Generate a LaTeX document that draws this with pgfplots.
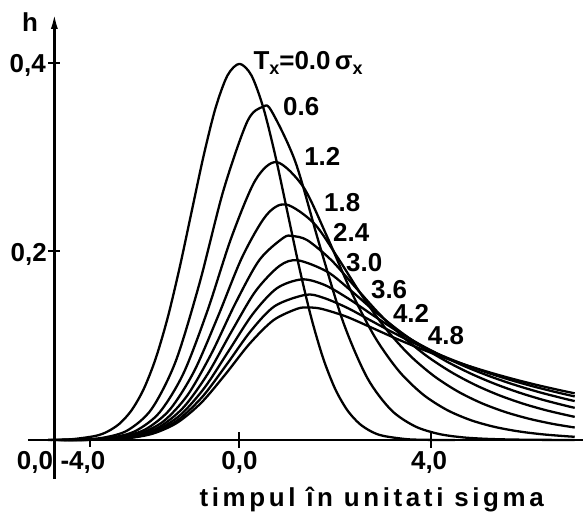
\documentclass[border=0pt]{standalone}
\usepackage{pgfplots}
\pgfplotsset{compat=1.18}
\usepackage{fontspec}
\setmainfont{Liberation Sans}
\newfontfamily\spaced[LetterSpace=14]{Liberation Sans}
\usetikzlibrary{arrows.meta}
\tikzset{lbl/.style={font=\bfseries\fontsize{26}{30}\selectfont, inner sep=0pt}}

\begin{document}
\begin{tikzpicture}
\begin{axis}[
  scale only axis, width=584pt, height=519pt,
  xmin=-5, xmax=7.1667, ymin=-0.08254, ymax=0.46667,
  hide axis, clip=false,
  cycle list={{black, solid, no markers}},
  every axis plot/.append style={line width=2.3pt, smooth, line join=round},
]
\path (rel axis cs:0,0) rectangle (rel axis cs:1,1);

% exponentially modified Gaussian, tau = 0 (pure Gaussian)
\addplot coordinates {(-4,0.00013) (-3.5,0.00087) (-3,0.00443) (-2.75,0.00909) (-2.5,0.01753)
 (-2.25,0.03174) (-2,0.05399) (-1.75,0.08628) (-1.5,0.12952) (-1.25,0.18265) (-1,0.24197)
 (-0.75,0.30114) (-0.5,0.35207) (-0.25,0.38667) (0,0.39894) (0.25,0.38667) (0.5,0.35207)
 (0.75,0.30114) (1,0.24197) (1.25,0.18265) (1.5,0.12952) (1.75,0.08628) (2,0.05399)
 (2.25,0.03174) (2.5,0.01753) (2.75,0.00909) (3,0.00443) (3.5,0.00087) (4,0.00013) (4.5,0.00002)};
% tau = 0.6
\addplot coordinates {(-3.833,0.00008) (-3.333,0.00050) (-2.833,0.00256) (-2.333,0.01034)
 (-1.833,0.03301) (-1.333,0.08326) (-0.833,0.16645) (-0.333,0.26503) (0.167,0.33823)
 (0.492,0.35346) (0.667,0.34909) (1.167,0.29504) (1.667,0.20779) (2.167,0.12489)
 (2.667,0.06604) (3.167,0.03183) (3.667,0.01449) (4.167,0.00640) (4.667,0.00280)
 (5.167,0.00122) (5.667,0.00053) (6.167,0.00023) (6.667,0.00010) (7,0.00006)};
% tau = 1.2
\addplot coordinates {(-3.667,0.00009) (-3.167,0.00052) (-2.667,0.00253) (-2.167,0.00968)
 (-1.667,0.02937) (-1.167,0.07093) (-0.667,0.13731) (-0.167,0.21498) (0.333,0.27561)
 (0.778,0.29473) (1.333,0.26843) (1.833,0.21532) (2.333,0.15745) (2.833,0.10870)
 (3.333,0.07287) (3.833,0.04827) (4.333,0.03186) (4.833,0.02101) (5.333,0.01385)
 (5.833,0.00913) (6.333,0.00602) (6.833,0.00397) (7,0.00345)};
% tau = 1.8
\addplot coordinates {(-3.944,0.00002) (-3.444,0.00014) (-2.944,0.00077) (-2.444,0.00340)
 (-1.944,0.01186) (-1.444,0.03290) (-0.944,0.07319) (-0.444,0.13166) (0.056,0.19393)
 (0.556,0.23806) (0.967,0.24989) (1.556,0.22983) (2.056,0.19309) (2.556,0.15317)
 (3.056,0.11798) (3.556,0.08980) (4.056,0.06810) (4.556,0.05159) (5.056,0.03908)
 (5.556,0.02960) (6.056,0.02242) (6.556,0.01698) (7,0.01327)};
% tau = 2.4
\addplot coordinates {(-3.583,0.00006) (-3.083,0.00038) (-2.583,0.00180) (-2.083,0.00672)
 (-1.583,0.02000) (-1.083,0.04768) (-0.583,0.09194) (-0.083,0.14517) (0.417,0.19101)
 (0.917,0.21447) (1.107,0.21633) (1.417,0.21189) (1.917,0.19082) (2.417,0.16225)
 (2.917,0.13396) (3.417,0.10930) (3.917,0.08885) (4.417,0.07215) (4.917,0.05858)
 (5.417,0.04757) (5.917,0.03862) (6.417,0.03136) (6.917,0.02546) (7,0.02459)};
% tau = 3.0
\addplot coordinates {(-3.667,0.00004) (-3.167,0.00024) (-2.667,0.00116) (-2.167,0.00451)
 (-1.667,0.01397) (-1.167,0.03473) (-0.667,0.06982) (-0.167,0.11493) (0.333,0.15766)
 (0.833,0.18456) (1.215,0.19061) (1.833,0.17847) (2.333,0.15821) (2.833,0.13619)
 (3.333,0.11584) (3.833,0.09817) (4.333,0.08311) (4.833,0.07036) (5.333,0.05956)
 (5.833,0.05041) (6.333,0.04267) (6.833,0.03612) (7,0.03417)};
% tau = 3.6
\addplot coordinates {(-3.722,0.00003) (-3.222,0.00016) (-2.722,0.00083) (-2.222,0.00332)
 (-1.722,0.01060) (-1.222,0.02709) (-0.722,0.05598) (-0.222,0.09475) (0.278,0.13364)
 (0.778,0.16084) (1.305,0.17035) (1.778,0.16442) (2.278,0.14986) (2.778,0.13263)
 (3.278,0.11600) (3.778,0.10107) (4.278,0.08798) (4.778,0.07658) (5.278,0.06664)
 (5.778,0.05800) (6.278,0.05048) (6.778,0.04394) (7,0.04131)};
% tau = 4.2
\addplot coordinates {(-3.762,0.00002) (-3.262,0.00012) (-2.762,0.00064) (-2.262,0.00261)
 (-1.762,0.00848) (-1.262,0.02210) (-0.762,0.04659) (-0.262,0.08044) (0.238,0.11572)
 (0.738,0.14207) (1.380,0.15400) (1.738,0.15111) (2.238,0.14049) (2.738,0.12683)
 (3.238,0.11315) (3.738,0.10056) (4.238,0.08929) (4.738,0.07927) (5.238,0.07038)
 (5.738,0.06248) (6.238,0.05547) (6.738,0.04924) (7,0.04626)};
% tau = 4.8
\addplot coordinates {(-3.792,0.00001) (-3.292,0.00010) (-2.792,0.00051) (-2.292,0.00213)
 (-1.792,0.00704) (-1.292,0.01862) (-0.792,0.03984) (-0.292,0.06980) (0.208,0.10193)
 (0.708,0.12702) (1.208,0.13926) (1.444,0.14053) (1.708,0.13918) (2.208,0.13134)
 (2.708,0.12035) (3.208,0.10897) (3.708,0.09830) (4.208,0.08859) (4.708,0.07983)
 (5.208,0.07194) (5.708,0.06482) (6.208,0.05841) (6.708,0.05263) (7,0.04952)};

% axes drawn by hand
\draw[line width=2.6pt] (axis cs:-4.42,0) -- (axis cs:7.1667,0);
\draw[line width=2.6pt, -{Latex[length=16pt,width=7pt]}] (axis cs:-3.865,-0.0413) -- (axis cs:-3.865,0.4529);
\draw[line width=2pt] (axis cs:-3.99,0.2) -- (axis cs:-3.74,0.2);
\draw[line width=2pt] (axis cs:-3.99,0.4) -- (axis cs:-3.74,0.4);
\draw[line width=2pt] (axis cs:0,-0.0080) -- (axis cs:0,0.0085);
\draw[line width=2pt] (axis cs:4,-0.0080) -- (axis cs:4,0.0085);
\draw[line width=2pt] (axis cs:-3.125,-0.0070) -- (axis cs:-3.125,0);

\node[lbl, anchor=east] at (axis cs:-4.04,0.397) {0,4};
\node[lbl, anchor=east] at (axis cs:-4.02,0.197) {0,2};
\node[lbl] at (axis cs:-4.375,0.4434) {h};
\node[lbl] at (axis cs:-4.27,-0.0233) {0,0};
\node[lbl] at (axis cs:-3.27,-0.0233) {-4,0};
\node[lbl] at (axis cs:0,-0.0233) {0,0};
\node[lbl] at (axis cs:3.96,-0.0233) {4,0};
\node[inner sep=0pt, anchor=base, font=\spaced\bfseries\fontsize{26}{30}\selectfont] at (axis cs:2.76,-0.0709) {timpul în unitati sigma};

% curve labels
\node[lbl, anchor=base west] at (axis cs:0.29,0.3926) {T\raisebox{-0.35ex}{\fontsize{18}{20}\selectfont x}=0.0\,σ\raisebox{-0.35ex}{\fontsize{18}{20}\selectfont x}};
\node[lbl] at (axis cs:1.29,0.3534) {0.6};
\node[lbl] at (axis cs:1.73,0.3005) {1.2};
\node[lbl] at (axis cs:2.146,0.2519) {1.8};
\node[lbl] at (axis cs:2.333,0.2201) {2.4};
\node[lbl] at (axis cs:2.604,0.1884) {3.0};
\node[lbl] at (axis cs:3.125,0.1598) {3.6};
\node[lbl] at (axis cs:3.583,0.1344) {4.2};
\node[lbl] at (axis cs:4.3125,0.1111) {4.8};
\end{axis}
\end{tikzpicture}
\end{document}
